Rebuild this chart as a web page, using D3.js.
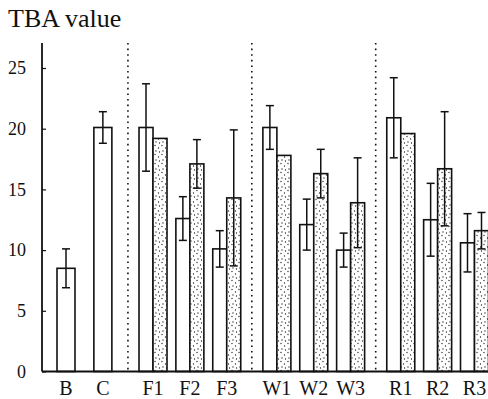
<!DOCTYPE html>
<html>
<head>
<meta charset="utf-8">
<script src="https://cdn.jsdelivr.net/npm/d3@7/dist/d3.min.js"></script>
<style>
  body { margin: 0; background: #fff; }
</style>
</head>
<body>
<svg id="chart" width="488" height="399"></svg>
<script>
// data
var groups   = ["B", "C", "F1", "F2", "F3", "W1", "W2", "W3", "R1", "R2", "R3"];
var sections = [0, 0, 1, 1, 1, 2, 2, 2, 3, 3, 3];
var plainMean = [8.5, 20.1, 20.1, 12.6, 10.1, 20.1, 12.1, 10.0, 20.9, 12.5, 10.6];
var plainErr  = [1.6, 1.3, 3.6, 1.8, 1.5, 1.8, 2.1, 1.4, 3.3, 3.0, 2.4];
var dotMean   = [null, null, 19.2, 17.1, 14.3, 17.8, 16.3, 13.9, 19.6, 16.7, 11.6];
var dotErr    = [null, null, 0, 2.0, 5.6, 0, 2.0, 3.7, 0, 4.7, 1.5];
var yTicks = [0, 5, 10, 15, 20, 25];

var serif = "'Liberation Serif', 'Times New Roman', 'DejaVu Serif', serif";
var svg = d3.select("#chart");
var axisX = 42, axisTop = 43;
var sectionGap = 0.36;
var pairW = 14, singleW = 18, capW = 8;

/*
 * skaly
 */
var y = d3.scaleLinear().domain([0, 25]).range([371.5, 68]);
var slot = function (i) { return i + sectionGap * sections[i]; };
var x = d3.scaleLinear()
    .domain([0, slot(groups.length - 1)])
    .range([66, 474.5]);

// stipple pattern for the shaded bars
var defs = svg.append("defs");
var pat = defs.append("pattern")
    .attr("id", "stipple")
    .attr("patternUnits", "userSpaceOnUse")
    .attr("width", 7).attr("height", 9);
pat.append("rect").attr("width", 7).attr("height", 9).attr("fill", "#fff");
[[1, 1.5], [4.5, 4], [2, 7], [5.5, 8]].forEach(function (p) {
  pat.append("circle").attr("cx", p[0]).attr("cy", p[1]).attr("r", 0.65).attr("fill", "#222");
});

// title
svg.append("text")
    .attr("x", 8).attr("y", 27)
    .style("font-family", serif)
    .style("font-size", "26px")
    .attr("fill", "#111")
    .text("TBA value");

// section separators (dotted)
for (var i = 1; i < groups.length; i++) {
  if (sections[i] !== sections[i - 1]) {
    var sx = x((slot(i - 1) + slot(i)) / 2);
    svg.append("line")
        .attr("x1", sx).attr("x2", sx)
        .attr("y1", axisTop).attr("y2", y(0))
        .attr("stroke", "#111")
        .attr("stroke-width", 1.6)
        .attr("stroke-dasharray", "1.6,4");
  }
}

// bars
var bars = [];
groups.forEach(function (g, i) {
  var cx = x(slot(i));
  if (dotMean[i] == null) {
    bars.push({ x0: cx - singleW / 2, w: singleW, v: plainMean[i], e: plainErr[i], fill: "#fff" });
  } else {
    bars.push({ x0: cx - pairW, w: pairW, v: plainMean[i], e: plainErr[i], fill: "#fff" });
    bars.push({ x0: cx, w: pairW, v: dotMean[i], e: dotErr[i], fill: "url(#stipple)" });
  }
});

svg.append("g").selectAll("rect")
    .data(bars).join("rect")
    .attr("x", function (d) { return d.x0; })
    .attr("y", function (d) { return y(d.v); })
    .attr("width", function (d) { return d.w; })
    .attr("height", function (d) { return y(0) - y(d.v); })
    .attr("fill", function (d) { return d.fill; })
    .attr("stroke", "#111")
    .attr("stroke-width", 1.6);

// error bars
var eg = svg.append("g").attr("stroke", "#111").attr("stroke-width", 1.5);
bars.filter(function (d) { return d.e > 0; }).forEach(function (d) {
  var mx = d.x0 + d.w / 2;
  eg.append("line").attr("x1", mx).attr("x2", mx)
      .attr("y1", y(d.v + d.e)).attr("y2", y(d.v - d.e));
  eg.append("line").attr("x1", mx - capW / 2).attr("x2", mx + capW / 2)
      .attr("y1", y(d.v + d.e)).attr("y2", y(d.v + d.e));
  eg.append("line").attr("x1", mx - capW / 2).attr("x2", mx + capW / 2)
      .attr("y1", y(d.v - d.e)).attr("y2", y(d.v - d.e));
});

// y axis
var yAxis = svg.append("g")
    .attr("transform", "translate(" + axisX + ",0)")
    .call(d3.axisLeft(y).tickValues(yTicks).tickSizeInner(-4).tickSizeOuter(0).tickPadding(16));
yAxis.attr("font-family", null);
yAxis.select(".domain").remove();
yAxis.selectAll("line").attr("stroke", "#111").attr("stroke-width", 1.2);
yAxis.selectAll("text")
    .style("font-family", serif)
    .style("font-size", "18px")
    .attr("fill", "#111");

svg.append("line")
    .attr("x1", axisX).attr("x2", axisX)
    .attr("y1", axisTop).attr("y2", y(0))
    .attr("stroke", "#111").attr("stroke-width", 1.8);
svg.append("line")
    .attr("x1", axisX).attr("x2", 488)
    .attr("y1", y(0)).attr("y2", y(0))
    .attr("stroke", "#111").attr("stroke-width", 1.8);

// x labels
svg.append("g").selectAll("text")
    .data(groups).join("text")
    .attr("x", function (d, i) { return x(slot(i)); })
    .attr("y", 395)
    .attr("text-anchor", "middle")
    .style("font-family", serif)
    .style("font-size", "20px")
    .attr("fill", "#111")
    .text(function (d) { return d; });
</script>
</body>
</html>
